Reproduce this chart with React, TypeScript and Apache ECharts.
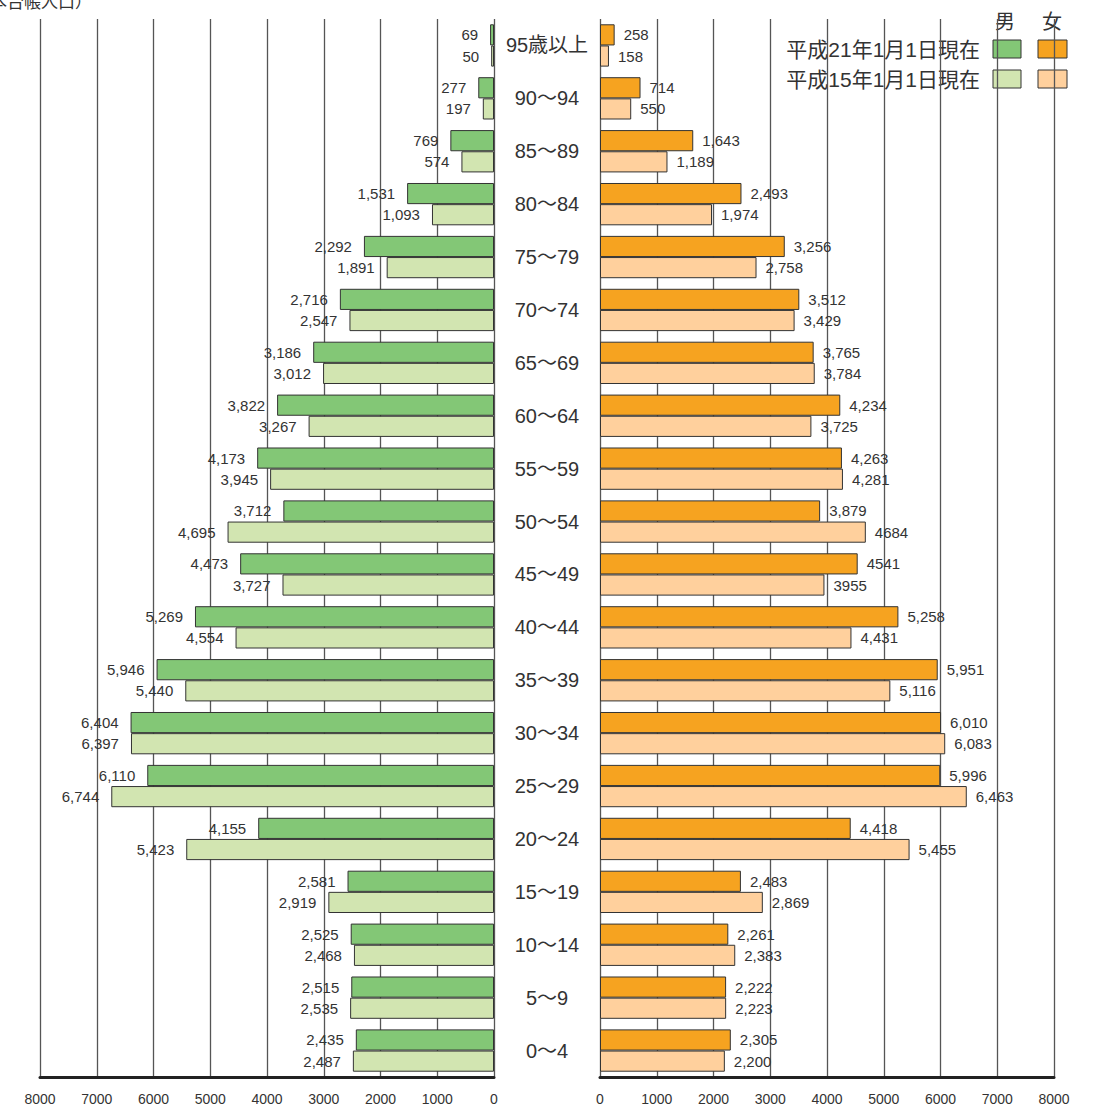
import React, { useEffect, useRef } from "react";
import * as echarts from "echarts";

const categories = [
  "95歳以上", "90～94", "85～89", "80～84", "75～79", "70～74", "65～69",
  "60～64", "55～59", "50～54", "45～49", "40～44", "35～39", "30～34",
  "25～29", "20～24", "15～19", "10～14", "5～9", "0～4",
];

const male21 = [69, 277, 769, 1531, 2292, 2716, 3186, 3822, 4173, 3712, 4473, 5269, 5946, 6404, 6110, 4155, 2581, 2525, 2515, 2435];
const male15 = [50, 197, 574, 1093, 1891, 2547, 3012, 3267, 3945, 4695, 3727, 4554, 5440, 6397, 6744, 5423, 2919, 2468, 2535, 2487];
const female21 = [258, 714, 1643, 2493, 3256, 3512, 3765, 4234, 4263, 3879, 4541, 5258, 5951, 6010, 5996, 4418, 2483, 2261, 2222, 2305];
const female15 = [158, 550, 1189, 1974, 2758, 3429, 3784, 3725, 4281, 4684, 3955, 4431, 5116, 6083, 6463, 5455, 2869, 2383, 2223, 2200];

// labels printed without thousands separator in the source
const female21Plain = [4541];
const female15Plain = [4684, 3955];

const axisTicks = [0, 1000, 2000, 3000, 4000, 5000, 6000, 7000, 8000];

const C_M21 = "#83c776";
const C_M15 = "#d2e5b1";
const C_F21 = "#f6a320";
const C_F15 = "#ffd09d";

const FONT = '"Liberation Sans", "Noto Sans CJK JP", sans-serif';
const CJK = '"Noto Sans CJK JP", sans-serif';

function fmt(v: number, plain: number[] = []) {
  return plain.includes(v) ? String(v) : v.toLocaleString("en-US");
}

export default function App() {
  const ref = useRef<HTMLDivElement>(null);
  useEffect(() => {
    if (!ref.current) return;
    const chart = echarts.init(ref.current, null, { renderer: "svg" });
    const xMin = axisTicks[0];
    const xMax = axisTicks[axisTicks.length - 1];
    const xInterval = axisTicks[1] - axisTicks[0];
    const xAxisBase = {
      type: "value",
      min: xMin,
      max: xMax,
      interval: xInterval,
      axisLine: { show: true, lineStyle: { color: "#222", width: 3 } },
      axisTick: { show: false },
      splitLine: { show: true, lineStyle: { color: "#555", width: 1.3 } },
      axisLabel: {
        fontSize: 14,
        color: "#333",
        margin: 15,
        fontFamily: FONT,
        formatter: (v: number) => String(v),
      },
    };
    const barBase = {
      type: "bar",
      barCategoryGap: "20%",
      barGap: "0%",
    };
    const mk = (name: string, data: number[], color: string, axis: number, pos: string, dist: number, plain: number[] = []) => ({
      ...barBase,
      name,
      data,
      xAxisIndex: axis,
      yAxisIndex: axis,
      itemStyle: { color, borderColor: "#333", borderWidth: 1 },
      label: {
        show: true,
        position: pos,
        distance: dist,
        fontSize: 15,
        color: "#333",
        fontFamily: FONT,
        formatter: (p: any) => fmt(p.value, plain),
      },
    });
    chart.setOption({
      animation: false,
      backgroundColor: "#fff",
      grid: [
        { left: 40, width: 454, top: 19, height: 1058 },
        { left: 600, width: 454, top: 19, height: 1058 },
      ],
      xAxis: [
        { ...xAxisBase, gridIndex: 0, inverse: true },
        { ...xAxisBase, gridIndex: 1 },
      ],
      yAxis: [
        {
          type: "category",
          gridIndex: 0,
          data: categories,
          inverse: true,
          position: "right",
          axisLine: { show: false },
          axisTick: { show: false },
          splitLine: { show: false },
          axisLabel: { align: "center", margin: 53, fontSize: 20, color: "#333", fontFamily: FONT },
        },
        {
          type: "category",
          gridIndex: 1,
          data: categories,
          inverse: true,
          show: false,
        },
      ],
      series: [
        mk("男 平成21年", male21, C_M21, 0, "left", 12),
        mk("男 平成15年", male15, C_M15, 0, "left", 12),
        mk("女 平成21年", female21, C_F21, 1, "right", 9, female21Plain),
        mk("女 平成15年", female15, C_F15, 1, "right", 9, female15Plain),
      ],
      graphic: [
        { type: "text", x: 92, y: -8, style: { text: "（住民基本台帳人口）", fontSize: 17, fill: "#333", fontFamily: CJK, align: "right", verticalAlign: "top" } },
        { type: "text", x: 1005, y: 20, style: { text: "男", fontSize: 20, fill: "#333", fontFamily: CJK, align: "center", verticalAlign: "middle" } },
        { type: "text", x: 1052, y: 20, style: { text: "女", fontSize: 20, fill: "#333", fontFamily: CJK, align: "center", verticalAlign: "middle" } },
        { type: "text", x: 980, y: 49, style: { text: "平成21年1月1日現在", fontSize: 21, fill: "#333", fontFamily: FONT, align: "right", verticalAlign: "middle" } },
        { type: "text", x: 980, y: 79, style: { text: "平成15年1月1日現在", fontSize: 21, fill: "#333", fontFamily: FONT, align: "right", verticalAlign: "middle" } },
        { type: "rect", shape: { x: 993, y: 40, width: 28, height: 18 }, style: { fill: C_M21, stroke: "#333", lineWidth: 1 } },
        { type: "rect", shape: { x: 1038, y: 40, width: 29, height: 18 }, style: { fill: C_F21, stroke: "#333", lineWidth: 1 } },
        { type: "rect", shape: { x: 993, y: 70, width: 28, height: 18 }, style: { fill: C_M15, stroke: "#333", lineWidth: 1 } },
        { type: "rect", shape: { x: 1038, y: 70, width: 29, height: 18 }, style: { fill: C_F15, stroke: "#333", lineWidth: 1 } },
      ],
    });
    return () => chart.dispose();
  }, []);
  return (
    <div
      ref={ref}
      style={{ position: "absolute", left: 0, top: 0, width: 1093, height: 1111 }}
    />
  );
}
